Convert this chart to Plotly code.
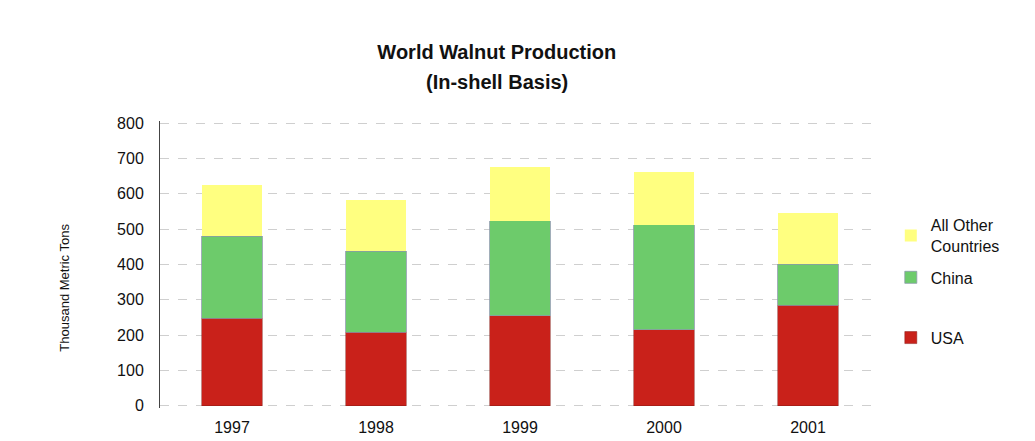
import plotly.graph_objects as go

years = ["1997", "1998", "1999", "2000", "2001"]
usa = [248, 208, 255, 216, 285]
china = [232, 230, 269, 296, 116]
others = [145, 144, 151, 151, 146]

FONT = "Liberation Sans, Arial, sans-serif"

fig = go.Figure()
fig.add_trace(go.Bar(x=years, y=usa, name="USA",
                     marker=dict(color="#C9211A", line=dict(color="#8a1a14", width=0.5)),
                     legend="legend3"))
fig.add_trace(go.Bar(x=years, y=china, name="China",
                     marker=dict(color="#6DCB6B", line=dict(color="#8a9aa8", width=0.8)),
                     legend="legend2"))
fig.add_trace(go.Bar(x=years, y=others, name="All Other<br>Countries",
                     marker=dict(color="#FFFF80", line=dict(color="#FFFF80", width=0)),
                     legend="legend"))

leg_common = dict(xref="paper", yref="paper", xanchor="left", yanchor="middle",
                  bgcolor="rgba(0,0,0,0)", font=dict(family=FONT, size=16, color="#111"),
                  itemwidth=30)

fig.update_layout(
    width=1035, height=441,
    barmode="stack", bargap=0.58,
    paper_bgcolor="white", plot_bgcolor="white",
    margin=dict(l=160, r=155, t=121, b=33),
    title=dict(text="<b>World Walnut Production</b>",
               x=0.48, xanchor="center", y=1 - 52 / 441, yanchor="middle",
               font=dict(family=FONT, size=20, color="#111")),
    xaxis=dict(showline=False, ticks="", showgrid=False, ticklabelstandoff=8,
               automargin=False,
               tickfont=dict(family=FONT, size=16, color="#111")),
    yaxis=dict(range=[-6, 806], dtick=100, showgrid=True, gridcolor="#cfcfcf",
               griddash="dash", gridwidth=1, zeroline=False,
               showline=True, linecolor="#444", linewidth=1,
               ticks="", ticklabelstandoff=12, automargin=False,
               tickfont=dict(family=FONT, size=16, color="#111")),
    legend=dict(x=1.015, y=0.60, **leg_common),
    legend2=dict(x=1.015, y=0.455, **leg_common),
    legend3=dict(x=1.015, y=0.245, **leg_common),
    showlegend=True,
    annotations=[
        dict(text="<b>(In-shell Basis)</b>", xref="paper", yref="paper",
             x=(497 - 160) / 720, y=1 + (121 - 82) / 287,
             xanchor="center", yanchor="middle", showarrow=False,
             font=dict(family=FONT, size=20, color="#111")),
        dict(text="Thousand Metric Tons", textangle=-90,
             xref="paper", yref="paper", x=-0.133, y=0.42,
             xanchor="center", yanchor="middle", showarrow=False,
             font=dict(family=FONT, size=13, color="#111"))],
)

fig.write_html("out.html")
